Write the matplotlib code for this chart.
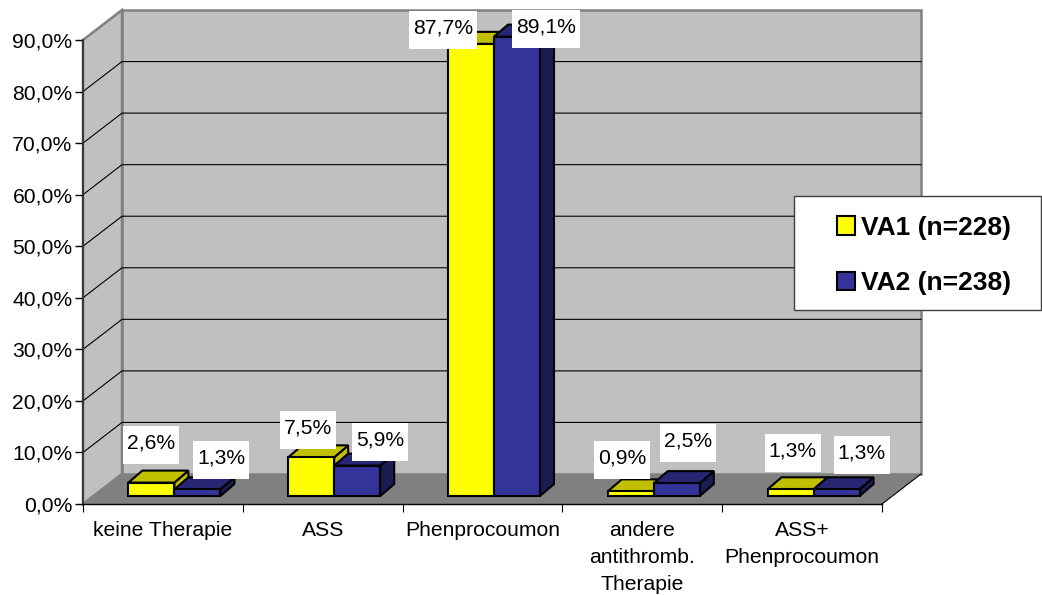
import numpy as np
import matplotlib
matplotlib.use('Agg')
import matplotlib.pyplot as plt
from matplotlib.patches import Polygon, Patch, Rectangle
from matplotlib.path import Path
from matplotlib.transforms import IdentityTransform

categories = ['keine Therapie', 'ASS', 'Phenprocoumon', 'andere\nantithromb.\nTherapie', 'ASS+\nPhenprocoumon']
va1 = [2.6, 7.5, 87.7, 0.9, 1.3]
va2 = [1.3, 5.9, 89.1, 2.5, 1.3]
series_names = ['VA1 (n=228)', 'VA2 (n=238)']
yticks = [0, 10, 20, 30, 40, 50, 60, 70, 80, 90]

plt.rcParams['font.family'] = ['Liberation Sans', 'DejaVu Sans']

W, H = 1042, 595
fig = plt.figure(figsize=(W / 100, H / 100), dpi=100)
# front plane of the fake 3d box, in pixels
ax = fig.add_axes([83 / W, (H - 504) / H, (882 - 83) / W, (504 - 40) / H])
ax.set_xlim(0, 5)
ax.set_ylim(0, 90)

px_x = 5 / (882 - 83)
px_y = 90 / (504 - 40)
dx, dy = 39 * px_x, 30 * px_y           # wall depth
bx, by = 14 * px_x, 12 * px_y           # bar depth
off_x, off_y = 11.5 * px_x, 8 * px_y    # bars stand a bit behind the front edge
bar_w = 46 * px_x

yellow, yellow_dark = '#ffff00', '#c0c000'
blue, blue_top, blue_side = '#333399', '#262673', '#1c1c55'
wall_edge = '#808080'


def poly(pts, fc, ec, lw, z):
    ax.add_patch(Polygon(pts, closed=True, facecolor=fc, edgecolor=ec, linewidth=lw,
                         zorder=z, clip_on=False, joinstyle='miter'))


# walls and floor
poly([(dx, dy), (5 + dx, dy), (5 + dx, 90 + dy), (dx, 90 + dy)], '#c0c0c0', wall_edge, 1.8, 1)
poly([(0, 0), (dx, dy), (dx, 90 + dy), (0, 90)], '#c0c0c0', wall_edge, 1.8, 1)
poly([(0, 0), (5, 0), (5 + dx, dy), (dx, dy)], '#808080', 'none', 0, 1.2)
ax.plot([5, 5 + dx], [0, dy], color='black', lw=0.8, clip_on=False, zorder=1.3)

for t in yticks[1:-1]:
    ax.plot([0, dx, 5 + dx], [t, t + dy, t + dy], color='black', lw=0.8, clip_on=False, zorder=1.5)

# bars
base = off_y
for i in range(5):
    xc = i + 0.5 + off_x
    x1 = xc - bar_w
    x2 = xc
    x3 = xc + bar_w
    top1 = base + va1[i]
    top2 = base + va2[i]
    poly([(x2, base), (x2 + bx, base + by), (x2 + bx, top1 + by), (x2, top1)], yellow_dark, 'black', 1.5, 3)
    poly([(x1, top1), (x2, top1), (x2 + bx, top1 + by), (x1 + bx, top1 + by)], yellow_dark, 'black', 1.5, 3)
    poly([(x3, base), (x3 + bx, base + by), (x3 + bx, top2 + by), (x3, top2)], blue_side, 'black', 1.5, 3.1)
    poly([(x2, top2), (x3, top2), (x3 + bx, top2 + by), (x2 + bx, top2 + by)], blue_top, 'black', 1.5, 3.1)

centers = np.arange(5) + 0.5 + off_x
ax.bar(centers - bar_w / 2, va1, bar_w, bottom=base, color=yellow, edgecolor='black', linewidth=1.5,
       clip_on=False, zorder=3.2)
ax.bar(centers + bar_w / 2, va2, bar_w, bottom=base, color=blue, edgecolor='black', linewidth=1.5,
       clip_on=False, zorder=3.3)


def tall_box(x0, y0, width, height, mutation_size):
    # excel labels: little side padding, a lot above and below, text sits high
    cy = y0 + height / 2
    l, r, b, t = x0 - 4, x0 + width + 4, cy - 21, cy + 17
    return Path([(l, b), (r, b), (r, t), (l, t), (l, b)], closed=True)


# label offsets from the bar top, in pixels
offs1 = [(0, 40), (-3, 29), (-28, 16), (-9, 33), (2, 38)]
offs2 = [(24, 31), (23, 26), (29, 10), (11, 42), (25, 36)]


def pct(v):
    return f'{v:.1f}%'.replace('.', ',')


for vals, offs, shift in ((va1, offs1, -bar_w / 2), (va2, offs2, bar_w / 2)):
    for i, v in enumerate(vals):
        ax.annotate(pct(v), xy=(centers[i] + shift, base + v), xytext=offs[i], textcoords='offset pixels',
                    ha='center', va='center', fontsize=15.2, color='black', annotation_clip=False,
                    zorder=6, bbox=dict(boxstyle=tall_box, facecolor='white', edgecolor='none'))

# axes
for s in ['top', 'right']:
    ax.spines[s].set_visible(False)
ax.spines['left'].set_color('#303030')
ax.spines['left'].set_linewidth(1.3)
ax.spines['bottom'].set_color('black')
ax.spines['bottom'].set_linewidth(1.0)
ax.patch.set_visible(False)

ax.set_yticks(yticks)
ax.set_yticklabels([pct(t) for t in yticks], fontsize=15.2)
ax.tick_params(axis='y', length=5.5, width=1, pad=2)
ax.set_xticks(range(6))
ax.set_xticklabels([])
ax.set_xticks(np.arange(5) + 0.5, minor=True)
ax.set_xticklabels(categories, minor=True, fontsize=15.2, linespacing=1.52)
ax.tick_params(axis='x', which='major', length=5.5, width=0.8)
ax.tick_params(axis='x', which='minor', length=0, pad=12.5)

# legend box
ax.add_patch(Rectangle((794, H - 310), 247, 114, transform=IdentityTransform(), facecolor='white',
                       edgecolor='#404040', linewidth=1, zorder=7, clip_on=False))
handles = [Patch(facecolor=yellow, edgecolor='black', linewidth=1.5, label=series_names[0]),
           Patch(facecolor=blue, edgecolor='black', linewidth=1.5, label=series_names[1])]
leg = ax.legend(handles=handles, loc='center left', bbox_to_anchor=(837, H - 255.5),
                bbox_transform=IdentityTransform(), frameon=False, borderaxespad=0, borderpad=0,
                prop={'size': 19, 'weight': 'bold'}, handlelength=0.7, handleheight=0.7,
                handletextpad=0.22, labelspacing=1.2)
leg.set_zorder(8)

fig.savefig('out.png', dpi=100)
